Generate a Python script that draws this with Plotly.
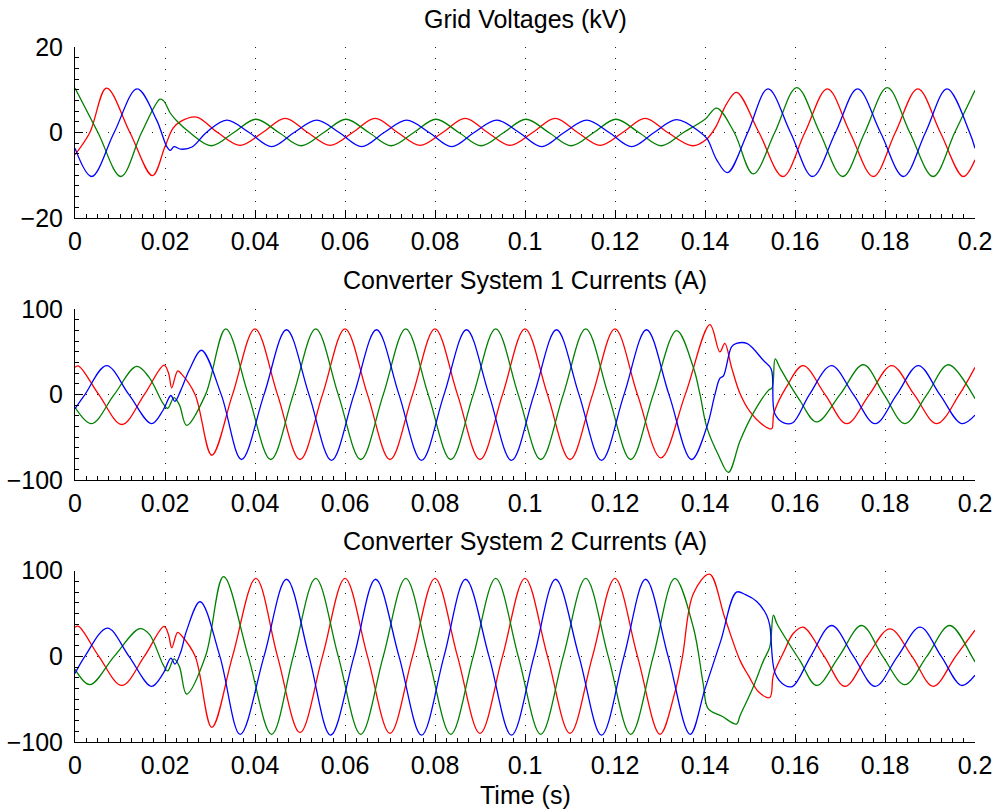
import plotly.graph_objects as go

# ---------------- data ----------------
x_tickvals = [0, 0.02, 0.04, 0.06, 0.08, 0.1, 0.12, 0.14, 0.16, 0.18, 0.2]
x_ticktext = ["0", "0.02", "0.04", "0.06", "0.08", "0.1", "0.12", "0.14", "0.16", "0.18", "0.2"]
gv_tickvals = [-20, 0, 20]
gv_ticktext = ["\u221220", "0", "20"]
cur_tickvals = [-100, 0, 100]
cur_ticktext = ["\u2212100", "0", "100"]

panel_titles = ["Grid Voltages (kV)", "Converter System 1 Currents (A)", "Converter System 2 Currents (A)"]
x_title = "Time (s)"

# Grid voltages (kV)
gv_red_t = [0, 0.0033, 0.007, 0.0122, 0.0172, 0.0200, 0.0218, 0.0235, 0.0270, 0.0317, 0.0367, 0.0417, 0.0467,
            0.0517, 0.0567, 0.0617, 0.0667, 0.0717, 0.0767, 0.0817, 0.0867, 0.0917, 0.0967, 0.1017, 0.1067, 0.1117,
            0.1167, 0.1217, 0.1267, 0.1317, 0.1372, 0.1404, 0.1425, 0.1447, 0.1470, 0.1520, 0.1573, 0.1622, 0.1672,
            0.1722, 0.1774, 0.1823, 0.1873, 0.1923, 0.1974, 0.2000]
gv_red_v = [-5.2, 0, 10.4, 0, -10.1, -3.3, 1.0, 2.6, 3.6, 0, -3.0, 0, 3.3, 0, -3.0, 0, 3.3, 0, -3.0, 0, 3.3, 0,
            -3.0, 0, 3.3, 0, -3.0, 0, 3.3, 0, -3.1, -1.5, 1.5, 6.5, 9.4, 0, -10.3, 0, 10.2, 0, -10.3, 0, 10.2, 0,
            -10.3, -6.4]

gv_blue_t = [0, 0.0037, 0.0087, 0.0138, 0.0181, 0.0204, 0.0212, 0.0220, 0.0235, 0.0260, 0.0292, 0.0337, 0.0387,
             0.0437, 0.0487, 0.0537, 0.0587, 0.0637, 0.0687, 0.0737, 0.0787, 0.0837, 0.0887, 0.0937, 0.0987, 0.1037,
             0.1087, 0.1137, 0.1187, 0.1237, 0.1287, 0.1337, 0.1390, 0.1405, 0.1426, 0.1450, 0.1495, 0.1540, 0.1590,
             0.1639, 0.1690, 0.1739, 0.1790, 0.1841, 0.1890, 0.1938, 0.1988, 0.2000]
gv_blue_v = [-3.7, -10.3, 0, 10.2, 3.0, -3.3, -4.2, -3.3, -3.9, -3.4, 0, 2.9, 0, -3.3, 0, 2.9, 0, -3.3, 0, 2.9, 0,
             -3.3, 0, 2.9, 0, -3.3, 0, 2.9, 0, -3.3, 0, 3.0, 0, -1.5, -6.4, -9.4, 0, 10.2, 0, -10.3, 0, 10.2, 0,
             -10.3, 0, 10.2, 0, -3.7]

gv_green_t = [0, 0.0051, 0.0102, 0.0148, 0.0189, 0.0197, 0.0212, 0.0228, 0.0255, 0.0303, 0.0353, 0.0402, 0.0453,
              0.0503, 0.0553, 0.0602, 0.0653, 0.0703, 0.0753, 0.0802, 0.0853, 0.0903, 0.0953, 0.1002, 0.1053, 0.1103,
              0.1153, 0.1202, 0.1253, 0.1303, 0.1352, 0.1400, 0.1426, 0.1465, 0.1507, 0.1555, 0.1604, 0.1655, 0.1706,
              0.1755, 0.1805, 0.1855, 0.1907, 0.1955, 0.2000]
gv_green_v = [10.4, 0, -10.3, 0, 7.8, 7.4, 4.5, 2.5, 0, -3.1, 0, 3.1, 0, -3.1, 0, 3.1, 0, -3.1, 0, 3.1, 0, -3.1, 0,
              3.1, 0, -3.1, 0, 3.1, 0, -3.1, 0, 3.1, 5.7, 0, -9.7, 0, 10.5, 0, -10.3, 0, 10.5, 0, -10.3, 0, 9.9]

# Converter system 1 currents (A)
c1_red_t = [0, 0.0008, 0.0053, 0.0104, 0.0154, 0.0198, 0.0208, 0.0215, 0.0228, 0.0237, 0.0267, 0.0304, 0.0350,
            0.0400, 0.0450, 0.0500, 0.0550, 0.0600, 0.0650, 0.0700, 0.0750, 0.0800, 0.0850, 0.0900, 0.0950, 0.1000,
            0.1050, 0.1100, 0.1150, 0.1200, 0.1250, 0.1302, 0.1356, 0.1411, 0.1433, 0.1444, 0.1459, 0.1478, 0.1500,
            0.1530, 0.1548, 0.1553, 0.1581, 0.1618, 0.1667, 0.1715, 0.1765, 0.1815, 0.1865, 0.1915, 0.1965, 0.2000]
c1_red_v = [32, 33.5, 0, -35, 0, 34.5, 25, 8, 27.7, 24, 0, -71, 0, 77, 0, -76, 0, 77, 0, -76, 0, 77, 0, -76, 0, 77,
            0, -76, 0, 77, 0, -74, 0, 82, 50, 60, 32, 1, -20, -36, -40, -22, 9, 34, 0, -34, 0, 34, 0, -34, 0, 32]

c1_blue_t = [0, 0.0022, 0.0070, 0.0120, 0.0170, 0.0196, 0.0213, 0.0222, 0.0235, 0.0255, 0.0281, 0.0325, 0.0370,
             0.0420, 0.0470, 0.0520, 0.0570, 0.0620, 0.0670, 0.0720, 0.0770, 0.0820, 0.0870, 0.0920, 0.0970, 0.1020,
             0.1070, 0.1120, 0.1170, 0.1220, 0.1270, 0.1320, 0.1370, 0.1404, 0.1422, 0.1433, 0.1441, 0.1459, 0.1470,
             0.1493, 0.1530, 0.1547, 0.1555, 0.1575, 0.1595, 0.1632, 0.1681, 0.1730, 0.1778, 0.1826, 0.1874, 0.1922,
             0.1970, 0.2000]
c1_blue_v = [-16.4, 0, 34, 0, -34, -18, -1, -8, 5, 30, 52, 0, -76, 0, 76, 0, -77, 0, 76, 0, -77, 0, 76, 0, -77, 0,
             76, 0, -77, 0, 76, 0, -76, -38, 0, 19, 22, 56, 60, 60, 40, 30, -22, -33, -33, 0, 34, 0, -34, 0, 34, 0,
             -34, -24]

c1_green_t = [0, 0.0037, 0.0087, 0.0137, 0.0165, 0.0196, 0.0206, 0.0220, 0.0232, 0.0248, 0.0290, 0.0335, 0.0385,
              0.0435, 0.0485, 0.0535, 0.0585, 0.0635, 0.0685, 0.0735, 0.0785, 0.0835, 0.0885, 0.0935, 0.0985, 0.1035,
              0.1085, 0.1135, 0.1185, 0.1235, 0.1285, 0.1337, 0.1374, 0.1389, 0.1404, 0.1430, 0.1452, 0.1478, 0.1507,
              0.1541, 0.1549, 0.1556, 0.1567, 0.1611, 0.1648, 0.1700, 0.1752, 0.1798, 0.1844, 0.1893, 0.1941, 0.1995,
              0.2000]
c1_green_v = [-15, -34, 0, 33, 20, -10.6, -16, -3.5, -12, -36, 0, 77, 0, -76, 0, 77, 0, -76, 0, 77, 0, -76, 0, 77,
              0, -76, 0, 77, 0, -76, 0, 75, 32, 0, -38, -71, -91, -54, -22, 5, 8, 42, 31, -7, -32, 0, 35, 0, -34, 0,
              35, 0, -4.7]

# Converter system 2 currents (A)
c2_red_t = [0, 0.0008, 0.0053, 0.0104, 0.0154, 0.0198, 0.0208, 0.0215, 0.0228, 0.0237, 0.0267, 0.0304, 0.0350,
            0.0402, 0.0450, 0.0500, 0.0550, 0.0600, 0.0650, 0.0700, 0.0750, 0.0800, 0.0850, 0.0900, 0.0950, 0.1000,
            0.1050, 0.1100, 0.1150, 0.1200, 0.1250, 0.1300, 0.1333, 0.1350, 0.1374, 0.1410, 0.1444, 0.1478, 0.1496,
            0.1520, 0.1544, 0.1552, 0.1575, 0.1596, 0.1618, 0.1665, 0.1711, 0.1760, 0.1811, 0.1860, 0.1907, 0.1957,
            0.2000]
c2_red_v = [34, 35, 0, -34, 0, 35, 25, 10, 28, 24, 0, -83, 0, 91, 0, -89, 0, 91, 0, -90, 0, 91, 0, -90, 0, 91, 0,
            -90, 0, 91, 0, -91, -42, 0, 73, 96, 45, -5, -22, -42, -48, -22, 5, 26.6, 34, 0, -35, 0, 32, 0, -35, 0,
            30.5]

c2_blue_t = [0, 0.0022, 0.0072, 0.0120, 0.0170, 0.0196, 0.0213, 0.0222, 0.0235, 0.0248, 0.0278, 0.0322, 0.0367,
             0.0420, 0.0470, 0.0520, 0.0568, 0.0620, 0.0668, 0.0720, 0.0770, 0.0820, 0.0868, 0.0920, 0.0970, 0.1020,
             0.1068, 0.1120, 0.1170, 0.1220, 0.1268, 0.1318, 0.1367, 0.1400, 0.1435, 0.1470, 0.1490, 0.1515, 0.1537,
             0.1544, 0.1556, 0.1578, 0.1595, 0.1635, 0.1681, 0.1730, 0.1778, 0.1828, 0.1878, 0.1925, 0.1970, 0.2000]
c2_blue_v = [-20, 0, 33, 0, -35, -20, -2, -9, 5, 30, 63.7, 0, -91, 0, 90, 0, -92, 0, 90, 0, -92, 0, 90, 0, -92, 0,
             90, 0, -92, 0, 90, 0, -91, -38, 18, 75, 72, 64, 48, 36, -20, -34, -35, 0, 36, 0, -35, 0, 34, 0, -34, -22]

c2_green_t = [0, 0.0033, 0.0087, 0.0144, 0.0165, 0.0196, 0.0206, 0.0220, 0.0232, 0.0248, 0.0290, 0.0330, 0.0385,
              0.0437, 0.0485, 0.0535, 0.0585, 0.0635, 0.0685, 0.0735, 0.0785, 0.0835, 0.0885, 0.0935, 0.0985, 0.1035,
              0.1085, 0.1135, 0.1185, 0.1235, 0.1285, 0.1333, 0.1374, 0.1396, 0.1407, 0.1438, 0.1470, 0.1478, 0.1507,
              0.1530, 0.1544, 0.1552, 0.1560, 0.1611, 0.1648, 0.1698, 0.1748, 0.1795, 0.1844, 0.1893, 0.1944, 0.1993,
              0.2000]
c2_green_v = [-15, -33, 0, 32.4, 26, -10, -17, -3, -12, -44, 0, 93, 0, -91, 0, 91, 0, -91, 0, 91, 0, -91, 0, 91, 0,
              -91, 0, 91, 0, -91, 0, 91, 34, -32, -61, -70, -79, -69, -36, -5, 11, 48, 38, -5, -34, 0, 36, 0, -33, 0,
              36, 0, -6.6]

# ---------------- figure ----------------
RED, BLUE, GREEN = "#ff0000", "#0000ff", "#008000"
FONT = "Liberation Sans, Arial, Helvetica, sans-serif"

fig = go.Figure()

panels = [
    ("x", "y", [(gv_red_t, gv_red_v, RED), (gv_green_t, gv_green_v, GREEN), (gv_blue_t, gv_blue_v, BLUE)]),
    ("x2", "y2", [(c1_red_t, c1_red_v, RED), (c1_green_t, c1_green_v, GREEN), (c1_blue_t, c1_blue_v, BLUE)]),
    ("x3", "y3", [(c2_red_t, c2_red_v, RED), (c2_green_t, c2_green_v, GREEN), (c2_blue_t, c2_blue_v, BLUE)]),
]
for xa, ya, series in panels:
    for t, v, c in series:
        fig.add_trace(go.Scatter(x=t, y=v, mode="lines", xaxis=xa, yaxis=ya, showlegend=False, hoverinfo="skip",
                                 line=dict(color=c, width=1.3, shape="spline", smoothing=1.0)))

axis_common = dict(showline=True, linecolor="black", linewidth=1, ticks="inside", ticklen=8, tickwidth=1,
                   tickcolor="black", showgrid=True, gridcolor="rgba(0,0,0,0.9)", griddash="1px,10px",
                   gridwidth=1, zeroline=False, mirror=False, automargin=False,
                   tickfont=dict(family=FONT, size=25, color="black"))

domains = [[0.754, 1.0], [0.377, 0.6226], [0.0, 0.2465]]
ytv = [gv_tickvals, cur_tickvals, cur_tickvals]
ytt = [gv_ticktext, cur_ticktext, cur_ticktext]
yrange = [[-20, 20], [-100, 100], [-100, 100]]
yminor = [2.5, 12.5, 12.5]

layout = dict(width=998, height=812, paper_bgcolor="white", plot_bgcolor="white",
              margin=dict(l=75, r=23, t=47, b=70), showlegend=False)
for i in range(3):
    sx = "" if i == 0 else str(i + 1)
    layout["xaxis" + sx] = dict(axis_common, domain=[0, 1], anchor="y" + sx, range=[0, 0.2],
                                tickmode="array", tickvals=x_tickvals, ticktext=x_ticktext,
                                ticklabelstandoff=1,
                                minor=dict(ticks="inside", ticklen=4, tickcolor="black", dtick=0.0025, tick0=0,
                                           showgrid=False))
    layout["yaxis" + sx] = dict(axis_common, domain=domains[i], anchor="x" + sx, range=yrange[i],
                                tickmode="array", tickvals=ytv[i], ticktext=ytt[i],
                                ticklabelstandoff=6,
                                minor=dict(ticks="inside", ticklen=4, tickcolor="black", dtick=yminor[i], tick0=0,
                                           showgrid=False))
fig.update_layout(**layout)

title_y = [1.0403, 0.6647, 0.2885]
for i, txt in enumerate(panel_titles):
    fig.add_annotation(text=txt, x=0.5, y=title_y[i], xref="paper", yref="paper", showarrow=False,
                       xanchor="center", yanchor="middle", font=dict(family=FONT, size=25, color="black"))
fig.add_annotation(text=x_title, x=0.5, y=-0.0763, xref="paper", yref="paper", showarrow=False,
                   xanchor="center", yanchor="middle", font=dict(family=FONT, size=25, color="black"))

fig.write_html("out.html", config={"displayModeBar": False},
               post_script="document.body.style.margin='0px';")
